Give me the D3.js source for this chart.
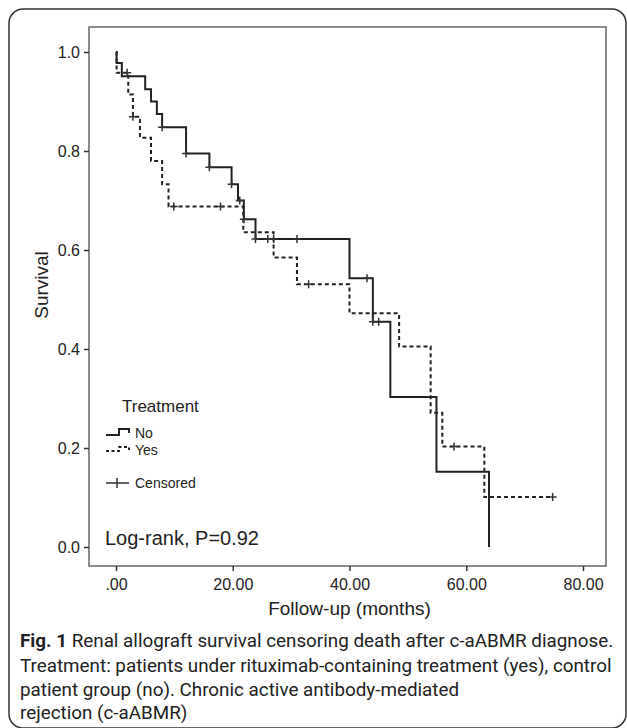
<!DOCTYPE html>
<meta charset="utf-8">
<style>
body { margin: 0; background: #fff; }
svg text { font-family: "Liberation Sans", Arial, sans-serif; fill: #222; }
.tick text { font-size: 16px; }
.caption text { font-family: Roboto, "Noto Sans", sans-serif; fill: #222; }
</style>
<body>
<script src="https://cdn.jsdelivr.net/npm/d3@7"></script>
<script>

// Kaplan-Meier steps (months, survival)
var noTimes = [0, 0.1, 1.0, 5.0, 6.0, 7.0, 7.9, 12.0, 16.0, 19.8, 20.9, 21.9, 23.9, 40.0, 44.0, 47.0, 54.9, 63.9];
var noSurv  = [1.0, 0.978, 0.951, 0.925, 0.900, 0.875, 0.848, 0.795, 0.767, 0.733, 0.700, 0.662, 0.622, 0.543, 0.455, 0.303, 0.152, 0.0];
var noCensored = [7.9, 12.0, 16.0, 19.8, 21.2, 21.9, 23.9, 26.0, 27.0, 31.0, 43.0, 44.0, 45.0];

var yesTimes = [0, 0.1, 2.1, 2.9, 4.1, 6.0, 7.9, 9.0, 21.8, 27.0, 31.0, 40.0, 48.5, 53.9, 55.9, 63.1, 74.8];
var yesSurv  = [1.0, 0.958, 0.914, 0.869, 0.827, 0.780, 0.733, 0.688, 0.636, 0.585, 0.531, 0.472, 0.405, 0.271, 0.203, 0.101, 0.101];
var yesCensored = [1.9, 2.9, 9.9, 17.9, 33.0, 57.9, 74.8];

var xTicks = [0, 20, 40, 60, 80];
var yTicks = [0, 0.2, 0.4, 0.6, 0.8, 1.0];

var captionLines = [
  "Renal allograft survival censoring death after c-aABMR diagnose.",
  "Treatment: patients under rituximab-containing treatment (yes), control",
  "patient group (no). Chronic active antibody-mediated",
  "rejection (c-aABMR)"
];

var width = 627, height = 728;
var frame = {left: 89, right: 606, top: 27, bottom: 566};

var svg = d3.select("body").append("svg")
    .attr("width", width)
    .attr("height", height);

// outer rounded border
svg.append("rect")
    .attr("x", 9).attr("y", 9)
    .attr("width", 617).attr("height", 719)
    .attr("rx", 14)
    .style("fill", "none")
    .style("stroke", "#333")
    .style("stroke-width", 1.5);

var x = d3.scaleLinear().domain([0, 80]).range([116, 583]);
var y = d3.scaleLinear().domain([0, 1]).range([547, 52]);

// plot frame
svg.append("rect")
    .attr("x", frame.left).attr("y", frame.top)
    .attr("width", frame.right - frame.left)
    .attr("height", frame.bottom - frame.top)
    .style("fill", "none")
    .style("stroke", "#666")
    .style("stroke-width", 1.5);

var xAxis = svg.append("g")
    .attr("transform", "translate(0," + frame.bottom + ")")
    .call(d3.axisBottom(x).tickValues(xTicks).tickSize(5).tickPadding(8)
      .tickFormat(function(d) { return d === 0 ? ".00" : d.toFixed(2); }));
xAxis.select(".domain").remove();

var yAxis = svg.append("g")
    .attr("transform", "translate(" + frame.left + ",0)")
    .call(d3.axisLeft(y).tickValues(yTicks).tickSize(5).tickPadding(4)
      .tickFormat(d3.format(".1f")));
yAxis.select(".domain").remove();

svg.selectAll(".tick line").style("stroke", "#333").style("stroke-width", 1.5);
svg.selectAll(".tick text").style("fill", "#222");

svg.append("text")
    .attr("transform", "translate(48,285) rotate(-90)")
    .attr("text-anchor", "middle")
    .style("font-size", "19px")
    .text("Survival");

svg.append("text")
    .attr("x", x(40)).attr("y", 615)
    .attr("text-anchor", "middle")
    .style("font-size", "19px")
    .text("Follow-up (months)");

function stepAt(times, surv, t) {
  var i = d3.bisectRight(times, t) - 1;
  return surv[Math.max(0, i)];
}

var line = d3.line()
    .x(function(d) { return x(d[0]); })
    .y(function(d) { return y(d[1]); })
    .curve(d3.curveStepAfter);

var yesPts = yesTimes.map(function(t, i) { return [t, yesSurv[i]]; });
var noPts = noTimes.map(function(t, i) { return [t, noSurv[i]]; });

svg.append("path")
    .attr("d", line(yesPts))
    .style("fill", "none")
    .style("stroke", "#222")
    .style("stroke-width", 2)
    .style("stroke-dasharray", "4,3");

svg.append("path")
    .attr("d", line(noPts))
    .style("fill", "none")
    .style("stroke", "#222")
    .style("stroke-width", 2);

function cross(g, cx, cy) {
  g.append("path")
      .attr("d", "M" + (cx - 4) + "," + cy + "h8M" + cx + "," + (cy - 4) + "v8")
      .style("stroke", "#333")
      .style("stroke-width", 1.5)
      .style("fill", "none");
}

var marks = svg.append("g");
noCensored.forEach(function(t) { cross(marks, x(t), y(stepAt(noTimes, noSurv, t))); });
yesCensored.forEach(function(t) { cross(marks, x(t), y(stepAt(yesTimes, yesSurv, t))); });

// legend
var lg = svg.append("g");
lg.append("text").attr("x", 122).attr("y", 412).style("font-size", "17px").text("Treatment");
lg.append("path")
    .attr("d", "M106,435h13v-6h10v4")
    .style("fill", "none").style("stroke", "#222").style("stroke-width", 2);
lg.append("text").attr("x", 135).attr("y", 438).style("font-size", "14px").text("No");
lg.append("path")
    .attr("d", "M106,451h13v-4h10v3")
    .style("fill", "none").style("stroke", "#222").style("stroke-width", 2)
    .style("stroke-dasharray", "3,2.5");
lg.append("text").attr("x", 135).attr("y", 455).style("font-size", "14px").text("Yes");
lg.append("path")
    .attr("d", "M106,483h23M117,478v10")
    .style("fill", "none").style("stroke", "#333").style("stroke-width", 1.5);
lg.append("text").attr("x", 135).attr("y", 488).style("font-size", "14px").text("Censored");

svg.append("text")
    .attr("x", 105).attr("y", 545)
    .style("font-size", "20px")
    .text("Log-rank, P=0.92");

// caption: natural font, squeezed horizontally so the second line spans the box
var cap = svg.append("g").attr("class", "caption");
var probe = cap.append("text").style("font-size", "18px").text(captionLines[1]);
var k = 592 / probe.node().getComputedTextLength();
probe.remove();
cap.attr("transform", "translate(20,0) scale(" + k + ",1)");

var baselines = [647, 672, 696, 719];
captionLines.forEach(function(s, i) {
  var t = cap.append("text")
      .attr("x", 0).attr("y", baselines[i])
      .style("font-size", "18px");
  if (i === 0) {
    t.append("tspan").style("font-weight", "bold").text("Fig. 1");
    t.append("tspan").text(" " + s);
  } else {
    t.text(s);
  }
});

</script>
